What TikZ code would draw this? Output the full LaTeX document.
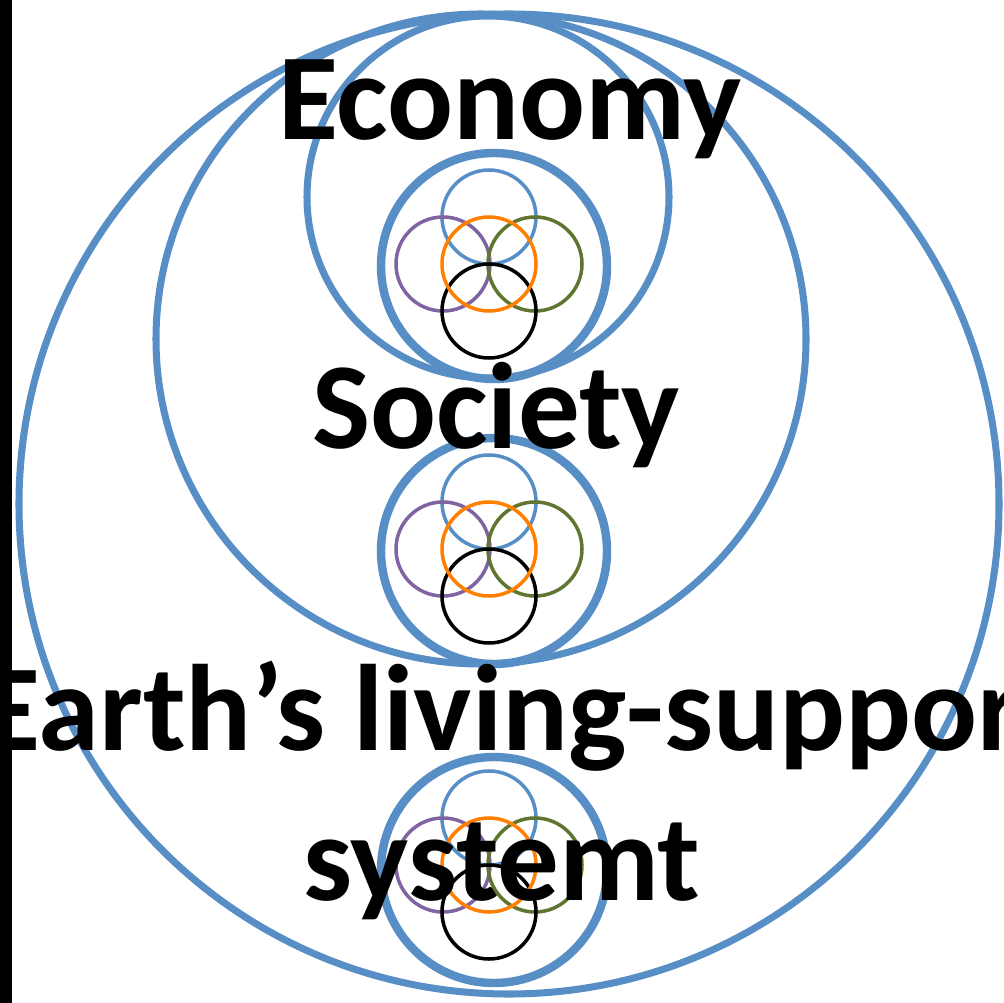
\documentclass[tikz,border=0pt]{standalone}
\usepackage{fontspec}
\setmainfont{Carlito}
\definecolor{ringblue}{RGB}{88,142,198}
\definecolor{petalpurple}{RGB}{128,100,162}
\definecolor{petalgreen}{RGB}{95,117,48}
\definecolor{petalorange}{RGB}{255,128,0}
\tikzset{
  ring/.style={draw=ringblue,line width=4pt},
  smallring/.style={draw=ringblue,line width=4.8pt},
  petal/.style={line width=2pt},
  label/.style={anchor=base,inner sep=0pt,font=\fontsize{70}{74}\selectfont\bfseries}
}
\begin{document}
\begin{tikzpicture}[x=0.02cm,y=-0.02cm]
                    \useasboundingbox (0,0) rectangle (1004,1003);
                    \clip (0,0) rectangle (1004,1003);
                    \fill[black] (0,0) rectangle (12,1003);
                    \draw[ring] (509,504) circle (490);
                    \draw[ring] (481,339) circle (325);
                    \draw[ring] (488,197) circle (181);
                    \foreach \cy/\oy in {264/266,549/551,865/870} {
                      \draw[smallring] (494,\oy) circle (113);
                      \draw[petal,draw=ringblue] (489,\cy-47) circle (47);
                      \draw[petal,draw=petalpurple] (443,\cy) circle (47);
                      \draw[petal,draw=petalgreen] (535,\cy) circle (47);
                      \draw[petal,draw=black] (489,\cy+47) circle (47);
                      \draw[petal,draw=petalorange] (489,\cy) circle (47);
                    }
                    \node[label] (eco) at (510,140) {Economy};
                    \node[label] (soc) at (496,448) {Society};
                    \node[label] (earth) at (522,750) {Earth’s living-support};
                    \node[label] (sys) at (502,900) {systemt};
                \end{tikzpicture}
\end{document}
